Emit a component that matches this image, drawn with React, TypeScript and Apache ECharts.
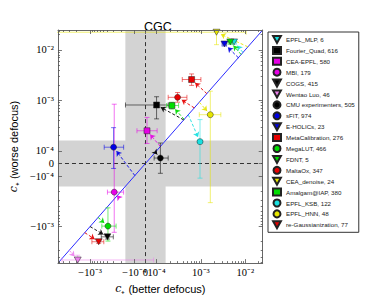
import React, { useEffect, useRef } from 'react';
import * as echarts from 'echarts';

// ---- symlog transform (linear region |v| <= 1e-4) ----
const LIN = 1e-4;
const LINU = 0.25;
const T = (v: number) => {
  const a = Math.abs(v);
  if (a <= LIN) return (v / LIN) * LINU;
  return Math.sign(v) * (LINU + Math.log10(a / LIN));
};

// ---- data ----
const teams = [
  'EPFL_MLP, 6', 'Fourier_Quad, 616', 'CEA-EPFL, 580', 'MBI, 179', 'COGS, 415',
  'Wentao Luo, 46', 'CMU experimenters, 505', 'sFIT, 974', 'E-HOLICs, 23',
  'MetaCalibration, 276', 'MegaLUT, 466', 'FDNT, 5', 'MaltaOx, 347',
  'CEA_denoise, 24', 'Amalgam@IAP, 380', 'EPFL_KSB, 122', 'EPFL_HNN, 48',
  're-Gaussianization, 77',
];
const cBetter = [5.6e-3, 1.0e-4, 1.35e-5, -2.85e-4, -4.06e-4, -1.9e-3, 1.22e-4, -2.95e-4, 3.4e-3, 6.17e-4, -3.95e-4, 4.6e-3, 2.98e-4, 2.25e-3, 2.22e-4, 9.55e-4, 1.63e-3, -6.4e-4];
const cWorse = [1.44e-2, 8.1e-4, 2.5e-4, -2.08e-4, -1.6e-3, -4.6e-3, 4.3e-5, 1.18e-4, 1.31e-2, 2.59e-3, -9.8e-4, 1.44e-2, 1.15e-3, 2.24e-2, 7.9e-4, 1.52e-4, 5.2e-4, -2.0e-3];
const cBetterLo = [4.9e-3, -1.59e-4, -7.7e-5, -4.06e-4, -5.6e-4, -4.3e-3, 7.8e-5, -4.8e-4, 3.0e-3, 3.8e-4, -5.44e-4, 4.1e-3, 1.83e-4, -6.0e-3, 1.69e-4, 8.4e-4, 9.2e-4, -9.1e-4];
const cBetterHi = [6.3e-3, 1.83e-4, 1.03e-4, -1.75e-4, -2.99e-4, 7.3e-5, 1.83e-4, -1.75e-4, 3.8e-3, 1.0e-3, -2.59e-4, 5.2e-3, 4.84e-4, 1.05e-2, 3.14e-4, 1.09e-3, 2.82e-3, -4.9e-4];
const cWorseLo = [1.3e-2, 4.3e-4, 1.4e-4, -1.3e-3, -1.77e-3, -6.0e-3, -7.8e-5, -3.95e-5, 1.2e-2, 1.98e-3, -1.94e-3, 1.3e-2, 9.2e-4, 1.27e-2, 6.7e-4, -1.1e-4, -3.36e-4, -2.15e-3];
const cWorseHi = [1.6e-2, 1.18e-3, 4.6e-4, 8.4e-4, -1.45e-3, -3.7e-3, 1.43e-4, 2.88e-4, 1.45e-2, 3.34e-3, -4.26e-4, 1.6e-2, 1.43e-3, 3.5e-2, 9.2e-4, 4.16e-4, 1.52e-3, -1.85e-3];
// where each dashed arrow meets the c_better = c_worse diagonal
const diagMeet = [8.9e-3, 4.1e-4, 1.22e-4, -2.44e-4, -1.0e-3, -2.95e-3, 8.9e-5, -9.6e-5, 7.0e-3, 1.36e-3, -6.6e-4, 8.1e-3, 7.1e-4, 1.15e-2, 4.2e-4, 5.2e-4, 9.2e-4, -1.32e-3];

const tickVals = [-1e-3, -1e-4, 0, 1e-4, 1e-3, 1e-2];
const tickLabels = ['\u221210\u207B\u00B3', '\u221210\u207B\u2074', '0', '10\u207B\u2074', '10\u207B\u00B3', '10\u207B\u00B2'];
const minorVals = [
  -5e-3, -4e-3, -3e-3, -2e-3, -9e-4, -8e-4, -7e-4, -6e-4, -5e-4, -4e-4, -3e-4, -2e-4,
  2e-4, 3e-4, 4e-4, 5e-4, 6e-4, 7e-4, 8e-4, 9e-4, 2e-3, 3e-3, 4e-3, 5e-3, 6e-3, 7e-3, 8e-3, 9e-3, 2e-2,
];
const bandHalf = 1.6e-4;
const axisMin = -5.3e-3;
const axisMax = 2.48e-2;

// ---- styles ----
const TRI = 'path://M0,0L10,0L5,9Z';
const colors = ['#19e0e0', '#000000', '#e600e6', '#e600e6', '#000000', '#ee82ee', '#000000', '#0000e6', '#0000e6', '#e60000', '#00dd00', '#00dd00', '#e60000', '#e6e600', '#00dd00', '#19e0e0', '#e6e600', '#e60000'];
const markers = [TRI, 'rect', 'rect', 'circle', TRI, TRI, 'circle', 'circle', TRI, 'rect', 'circle', TRI, 'circle', TRI, 'rect', 'circle', 'circle', TRI];

const PXX = 47.39;
const PXY = 51.64;

export default function App() {
  const ref = useRef<HTMLDivElement>(null);
  useEffect(() => {
    if (!ref.current) return;
    const chart = echarts.init(ref.current, null, { renderer: 'svg' });
    const mn = T(axisMin);
    const mx = T(axisMax);
    const tickU = tickVals.map(T);
    const minorU = minorVals.map(T);
    const fmt = (v: number) => {
      let best = 0;
      tickU.forEach((t, i) => { if (Math.abs(t - v) < Math.abs(tickU[best] - v)) best = i; });
      return tickLabels[best];
    };
    const serif = 'Liberation Serif';
    const nameStyle = {
      fontFamily: 'Liberation Sans', fontSize: 11, color: '#000',
      rich: { i: { fontFamily: 'DejaVu Serif', fontStyle: 'italic', fontSize: 11 } },
    };
    const mkX = (pos: 'bottom' | 'top', minor: boolean, labels: boolean, name?: string) => ({
      type: 'value', position: pos, min: mn, max: mx, z: 10,
      splitLine: { show: false },
      axisLine: { show: !minor, onZero: false, lineStyle: { color: '#666', width: 1 } },
      axisTick: { show: true, inside: true, length: minor ? 2 : 4, customValues: minor ? minorU : tickU, lineStyle: { color: '#555', width: 0.8 } },
      axisLabel: labels ? { show: true, customValues: tickU, formatter: fmt, margin: 4, fontFamily: serif, fontSize: 10.5, color: '#000' } : { show: false },
      name: name,
      nameLocation: 'middle',
      nameGap: 13,
      nameTextStyle: nameStyle,
    });
    const mkY = (pos: 'left' | 'right', minor: boolean, labels: boolean, name?: string) => ({
      type: 'value', position: pos, min: mn, max: mx, z: 10,
      splitLine: { show: false },
      axisLine: { show: !minor, onZero: false, lineStyle: { color: '#666', width: 1 } },
      axisTick: { show: true, inside: true, length: minor ? 2 : 4, customValues: minor ? minorU : tickU, lineStyle: { color: '#555', width: 0.8 } },
      axisLabel: labels ? { show: true, customValues: tickU, formatter: fmt, margin: 4, fontFamily: serif, fontSize: 10.5, color: '#000' } : { show: false },
      name: name,
      nameLocation: 'middle',
      nameGap: 27,
      nameTextStyle: nameStyle,
    });

    const series: any[] = [];
    // bands + zero lines
    series.push({
      type: 'scatter', name: 'bands', data: [], silent: true, z: 1,
      markArea: {
        silent: true,
        itemStyle: { color: '#d3d3d3', opacity: 1 },
        data: [
          [{ xAxis: T(-bandHalf) }, { xAxis: T(bandHalf) }],
          [{ yAxis: T(-bandHalf) }, { yAxis: T(bandHalf) }],
        ],
      },
    });
    series.push({
      type: 'scatter', name: 'zeros', data: [], silent: true, z: 2,
      markLine: {
        silent: true, symbol: 'none', label: { show: false },
        lineStyle: { color: '#333', type: [4, 3], width: 1 },
        data: [{ xAxis: 0 }, { yAxis: 0 }],
      },
    });
    // diagonal
    series.push({
      type: 'line', name: 'diag', data: [[mn, mn], [mx, mx]], symbol: 'none', silent: true, z: 3,
      lineStyle: { color: '#2b2bff', width: 1 },
    });
    // arrows
    teams.forEach((t, i) => {
      const px = T(cBetter[i]);
      const py = T(cWorse[i]);
      const d = T(diagMeet[i]);
      const dx = (px - d) * PXX;
      const dy = (py - d) * PXY;
      const L = Math.sqrt(dx * dx + dy * dy);
      const f = L > 0 ? Math.min(0.9, 5 / L) : 0;
      const hx = px - (px - d) * f;
      const hy = py - (py - d) * f;
      series.push({
        type: 'lines', name: 'arrow' + i, coordinateSystem: 'cartesian2d', z: 4, silent: true,
        symbol: ['none', 'arrow'], symbolSize: [4, 5],
        lineStyle: { color: colors[i], width: 1, type: [3, 2], opacity: 0.9 },
        data: [{ coords: [[d, d], [hx, hy]] }],
      });
    });
    // error bars
    teams.forEach((t, i) => {
      series.push({
        type: 'custom', name: 'err' + i, z: 5, silent: true, clip: true,
        data: [[T(cBetter[i]), T(cWorse[i]), T(cBetterLo[i]), T(cBetterHi[i]), T(cWorseLo[i]), T(cWorseHi[i])]],
        renderItem: (params: any, api: any) => {
          const c = api.coord([api.value(0), api.value(1)]);
          const xl = api.coord([api.value(2), api.value(1)]);
          const xh = api.coord([api.value(3), api.value(1)]);
          const yl = api.coord([api.value(0), api.value(4)]);
          const yh = api.coord([api.value(0), api.value(5)]);
          const st = { stroke: colors[i], lineWidth: 1, opacity: 0.55 };
          const cap = 2.5;
          return {
            type: 'group',
            children: [
              { type: 'line', shape: { x1: xl[0], y1: c[1], x2: xh[0], y2: c[1] }, style: st },
              { type: 'line', shape: { x1: c[0], y1: yl[1], x2: c[0], y2: yh[1] }, style: st },
              { type: 'line', shape: { x1: xl[0], y1: c[1] - cap, x2: xl[0], y2: c[1] + cap }, style: st },
              { type: 'line', shape: { x1: xh[0], y1: c[1] - cap, x2: xh[0], y2: c[1] + cap }, style: st },
              { type: 'line', shape: { x1: c[0] - cap, y1: yl[1], x2: c[0] + cap, y2: yl[1] }, style: st },
              { type: 'line', shape: { x1: c[0] - cap, y1: yh[1], x2: c[0] + cap, y2: yh[1] }, style: st },
            ],
          };
        },
      });
    });
    // markers
    teams.forEach((t, i) => {
      series.push({
        type: 'scatter', name: t, z: 6,
        symbol: markers[i], symbolSize: markers[i] === TRI ? [7, 6] : 6,
        itemStyle: { color: colors[i], borderColor: '#222', borderWidth: 0.5, opacity: 1 },
        data: [[T(cBetter[i]), T(cWorse[i])]],
      });
    });

    chart.setOption({
      animation: false,
      backgroundColor: '#fff',
      title: {
        text: 'CGC', left: 139, top: 15,
        textStyle: { fontFamily: 'Liberation Sans', fontSize: 12.5, fontWeight: 'normal', color: '#000' },
      },
      grid: { left: 44, top: 30, width: 218.7, height: 238.3 },
      legend: {
        data: teams,
        orient: 'vertical', left: 268, top: 32, itemWidth: 8, itemHeight: 7, itemGap: 1.9,
        padding: [3, 4, 3, 4],
        borderColor: '#333', borderWidth: 1, backgroundColor: '#fff',
        textStyle: { fontFamily: 'Liberation Sans', fontSize: 6.2, color: '#222', lineHeight: 7 },
        selectedMode: false,
      },
      xAxis: [
        mkX('bottom', false, true, '{i|c}\u208A (better defocus)'),
        mkX('top', false, false),
        mkX('bottom', true, false),
        mkX('top', true, false),
      ],
      yAxis: [
        mkY('left', false, true, '{i|c}\u208A (worse defocus)'),
        mkY('right', false, false),
        mkY('left', true, false),
        mkY('right', true, false),
      ],
      series,
    });
    return () => chart.dispose();
  }, []);
  return <div ref={ref} style={{ width: 374, height: 299, position: 'absolute', left: 0, top: 0 }} />;
}
